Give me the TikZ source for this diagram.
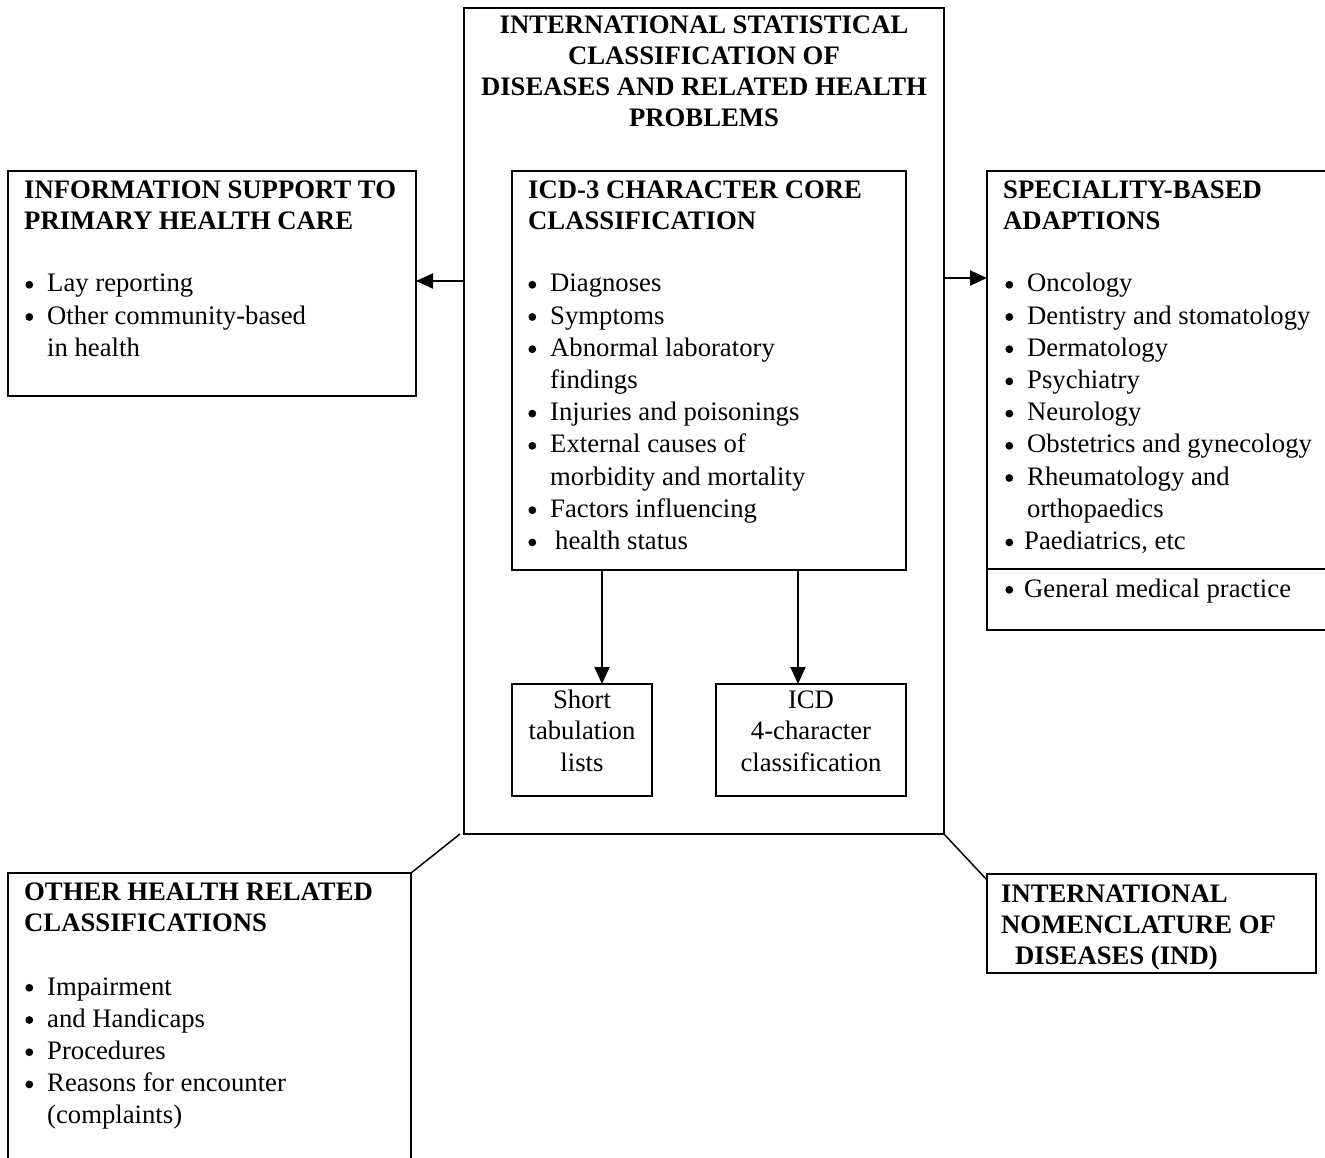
\documentclass[tikz,border=0pt]{standalone}
\usepackage{fontspec}
\setmainfont{Liberation Serif}
\usetikzlibrary{arrows.meta,calc}
\newcommand\fsz{\fontsize{26.7}{32.2}\selectfont}
\newcommand\csz{\fontsize{26.7}{31.5}\selectfont}
\newcommand\hsz{\fontsize{26.7}{31}\selectfont\bfseries}
\newcommand\bdot{\tikz[baseline=0pt]\fill (0pt,7.2pt) circle (3.9pt);}
\newcommand\bul{\makebox[22pt][l]{\hspace*{0.2pt}\bdot}}
\newcommand\sbul{\makebox[19pt][l]{\hspace*{0.2pt}\bdot}}
\newcommand\llines[1]{\begin{tabular}[t]{@{}l@{}}#1\end{tabular}}
\newcommand\clines[1]{\begin{tabular}[t]{@{}c@{}}#1\end{tabular}}
\begin{document}
\begin{tikzpicture}[x=1pt,y=1pt,
  box/.style={draw, line width=2pt, inner sep=0pt, outer sep=0pt, anchor=north west},
  head/.style={inner sep=0pt, anchor=base west, font=\hsz},
  blist/.style={inner sep=0pt, anchor=base west, font=\fsz},
  ctext/.style={inner sep=0pt, anchor=base, font=\csz},
  ctitle/.style={inner sep=0pt, anchor=base, font=\hsz},
  arr/.style={-{Triangle[length=17pt,width=15pt]}, line width=2pt},
  link/.style={line width=1.5pt}]
\clip (0,0) rectangle (1325,-1158);
% boxes
\node[box, minimum width=480pt, minimum height=826pt] (main) at (464,-8) {};
\node[box, minimum width=394pt, minimum height=399pt] (core) at (512,-171) {};
\node[box, minimum width=140pt, minimum height=112pt] (short) at (512,-684) {};
\node[box, minimum width=190pt, minimum height=112pt] (four) at (716,-684) {};
\node[box, minimum width=408pt, minimum height=225pt] (info) at (8,-171) {};
\node[box, minimum width=360pt, minimum height=459pt] (spec) at (987,-171) {};
\node[box, minimum width=403pt, minimum height=320pt] (other) at (8,-873) {};
\node[box, minimum width=329pt, minimum height=99pt] (ind) at (987,-874) {};
% divider in speciality box
\draw[line width=2pt] ($(spec.north west)+(0,-398)$) -- ($(spec.north east)+(0,-398)$);
% texts
\node[ctitle] (title) at (704,-33.5) {\clines{INTERNATIONAL STATISTICAL\\CLASSIFICATION OF\\DISEASES AND RELATED HEALTH\\PROBLEMS}};
\node[head] (coreh) at (528,-198.5) {\llines{ICD-3 CHARACTER CORE\\CLASSIFICATION}};
\node[blist] (corel) at (528,-292) {\llines{\bul Diagnoses\\\bul Symptoms\\\bul Abnormal laboratory\\\hspace*{22pt}findings\\\bul Injuries and poisonings\\\bul External causes of\\\hspace*{22pt}morbidity and mortality\\\bul Factors influencing\\\bul\hspace*{5pt}health status}};
\node[head] (infoh) at (24,-198.5) {\llines{INFORMATION SUPPORT TO\\PRIMARY HEALTH CARE}};
\node[blist] (infol) at (25,-292) {\llines{\bul Lay reporting\\\bul Other community-based\\\hspace*{22pt}in health}};
\node[head] (spech) at (1003,-198.5) {\llines{SPECIALITY-BASED\\ADAPTIONS}};
\node[blist] (specl) at (1005,-292) {\llines{\bul Oncology\\\bul Dentistry and stomatology\\\bul Dermatology\\\bul Psychiatry\\\bul Neurology\\\bul Obstetrics and gynecology\\\bul Rheumatology and\\\hspace*{22pt}orthopaedics\\\sbul Paediatrics, etc}};
\node[blist] (gen) at (1005,-597) {\sbul General medical practice};
\node[head] (otherh) at (24,-900) {\llines{OTHER HEALTH RELATED\\CLASSIFICATIONS}};
\node[blist] (otherl) at (25,-995) {\llines{\bul Impairment\\\bul and Handicaps\\\bul Procedures\\\bul Reasons for encounter\\\hspace*{22pt}(complaints)}};
\node[head] (indh) at (1001,-902) {\llines{INTERNATIONAL\\NOMENCLATURE OF\\\hspace*{14pt}DISEASES (IND)}};
\node[ctext] (shortt) at (582,-708) {\clines{Short\\tabulation\\lists}};
\node[ctext] (fourt) at (811,-708) {\clines{ICD\\4-character\\classification}};
% connectors
\draw[arr] (main.west |- 0,-281) -- (info.east |- 0,-281);
\draw[arr] (main.east |- 0,-278) -- (spec.west |- 0,-278);
\draw[arr] (core.south -| 602,0) -- (short.north -| 602,0);
\draw[arr] (core.south -| 798,0) -- (four.north -| 798,0);
\draw[link] ([xshift=-4pt]main.south west) -- (other.north east);
\draw[link] (main.south east) -- ([yshift=-6pt]ind.north west);
\end{tikzpicture}
\end{document}
